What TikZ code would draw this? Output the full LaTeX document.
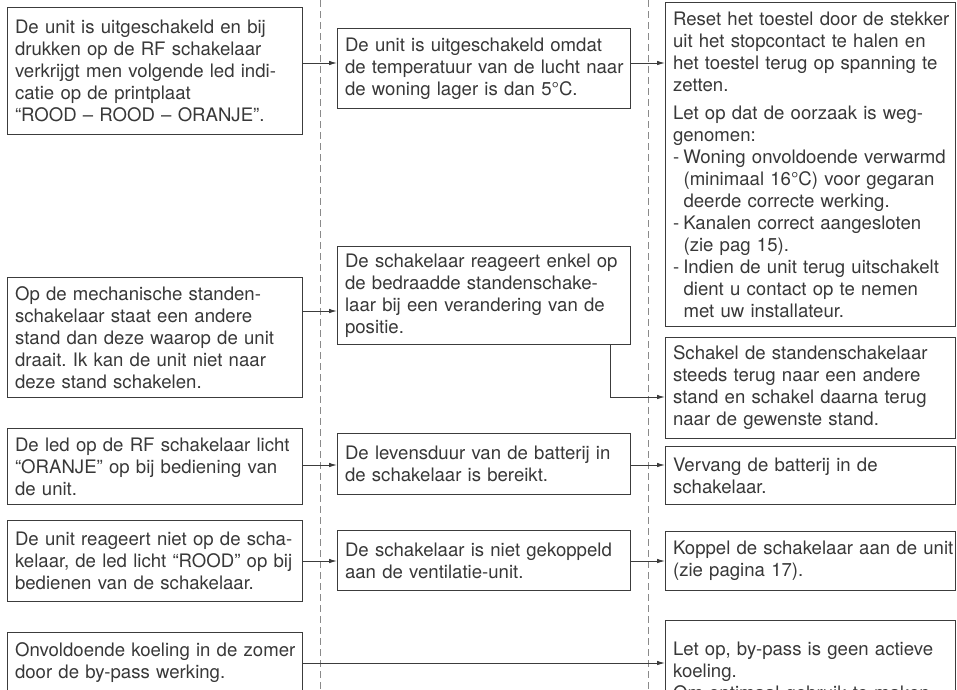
\documentclass[tikz,border=0pt]{standalone}
\usepackage{fontspec}
\setmainfont{TeX Gyre Heros}
\usepackage{xcolor}
\usepackage{tikz}
\usetikzlibrary{arrows.meta,positioning,calc}
\frenchspacing

\definecolor{boxline}{HTML}{3C3C3C}
\definecolor{boxtext}{HTML}{383838}
\definecolor{sepline}{HTML}{8A8A8A}

\tikzset{
  box/.style={draw=boxline, line width=1.1pt, anchor=north west,
    inner xsep=7.5pt, inner ysep=3pt, text=boxtext,
    font=\fontsize{18.6}{22}\selectfont,
    execute at begin node={\setlength{\parindent}{0pt}%
      \setlength{\rightskip}{0pt plus 1fil minus 30pt}%
      \setlength{\parfillskip}{0pt plus 1fil}}},
  sympt/.style={box, text width=280pt},
  cause/.style={box, text width=278pt},
  remedy/.style={box, text width=275pt},
  link/.style={draw=boxline, line width=0.9pt, -{Latex[length=8pt,width=4.5pt]}},
  sep/.style={draw=sepline, line width=0.8pt, dash pattern=on 7pt off 4pt}
}

\begin{document}
\begin{tikzpicture}[x=1pt, y=-1pt]
    \useasboundingbox (0,0) rectangle (957,689);
    \clip (0,0) rectangle (957,689);

    % column separators
    \draw[sep] (320,0) -- (320,689);
    \draw[sep] (648,0) -- (648,689);

    % symptoms
    \node[sympt, minimum height=127pt] (sym1) at (7,7) {De unit is uitgeschakeld en bij\\drukken op de RF schakelaar\\verkrijgt men volgende led indi-\\catie op de printplaat\\“ROOD – ROOD – ORANJE”.};
    \node[sympt, minimum height=120pt] (sym2) at (7,277) {Op de mechanische standen-\\schakelaar staat een andere\\stand dan deze waarop de unit\\draait. Ik kan de unit niet naar\\deze stand schakelen.};
    \node[sympt, minimum height=76pt] (sym3) at (7,428) {De led op de RF schakelaar licht\\“ORANJE” op bij bediening van\\de unit.};
    \node[sympt, minimum height=81pt] (sym4) at (7,520) {De unit reageert niet op de scha-\\kelaar, de led licht “ROOD” op bij\\bedienen van de schakelaar.};
    \node[sympt, minimum height=61pt] (sym5) at (7,632) {Onvoldoende koeling in de zomer\\door de by-pass werking.};

    % causes
    \node[cause, minimum height=80pt] (cause1) at (337,28) {De unit is uitgeschakeld omdat\\de temperatuur van de lucht naar\\de woning lager is dan 5°C.};
    \node[cause, minimum height=98pt] (cause2) at (337,246) {De schakelaar reageert enkel op\\de bedraadde standenschake-\\laar bij een verandering van de\\positie.};
    \node[cause, minimum height=61pt] (cause3) at (337,433) {De levensduur van de batterij in\\de schakelaar is bereikt.};
    \node[cause, minimum height=60pt] (cause4) at (337,530) {De schakelaar is niet gekoppeld\\aan de ventilatie-unit.};

    % remedies
    \node[remedy, minimum height=324pt] (fix1) at (665,2) {Reset het toestel door de stekker\\uit het stopcontact te halen en\\het toestel terug op spanning te\\zetten.\\[6pt]Let op dat de oorzaak is weg-\\genomen:\\-\hspace*{4pt}Woning onvoldoende verwarmd\\\hspace*{10.5pt}(minimaal 16°C) voor gegaran\\\hspace*{10.5pt}deerde correcte werking.\\-\hspace*{4pt}Kanalen correct aangesloten\\\hspace*{10.5pt}(zie pag 15).\\-\hspace*{4pt}Indien de unit terug uitschakelt\\\hspace*{10.5pt}dient u contact op te nemen\\\hspace*{10.5pt}met uw installateur.};
    \node[remedy, minimum height=101pt] (fix2) at (665,337) {Schakel de standenschakelaar\\steeds terug naar een andere\\stand en schakel daarna terug\\naar de gewenste stand.};
    \node[remedy, minimum height=58pt] (fix3) at (665,446) {Vervang de batterij in de\\schakelaar.};
    \node[remedy, minimum height=59pt] (fix4) at (665,531) {Koppel de schakelaar aan de unit\\(zie pagina 17).};
    \node[remedy, minimum height=104pt] (fix5) at (665,620) {Let op, by-pass is geen actieve\\koeling.\\Om optimaal gebruik te maken};

    % rows of arrows
    \coordinate (row1) at (0,63);
    \coordinate (row2) at (0,311);
    \coordinate (row3) at (0,465);
    \coordinate (row4) at (0,561);
    \coordinate (row5) at (0,663);
    \coordinate (bend) at (610,397);

    \draw[link] (sym1.east |- row1) -- (cause1.west |- row1);
    \draw[link] (cause1.east |- row1) -- (fix1.west |- row1);
    \draw[link] (sym2.east |- row2) -- (cause2.west |- row2);
    \draw[link] (cause2.south -| bend) -- (bend) -- (fix2.west |- bend);
    \draw[link] (sym3.east |- row3) -- (cause3.west |- row3);
    \draw[link] (cause3.east |- row3) -- (fix3.west |- row3);
    \draw[link] (sym4.east |- row4) -- (cause4.west |- row4);
    \draw[link] (cause4.east |- row4) -- (fix4.west |- row4);
    \draw[link] (sym5.east |- row5) -- (fix5.west |- row5);

\end{tikzpicture}
\end{document}
